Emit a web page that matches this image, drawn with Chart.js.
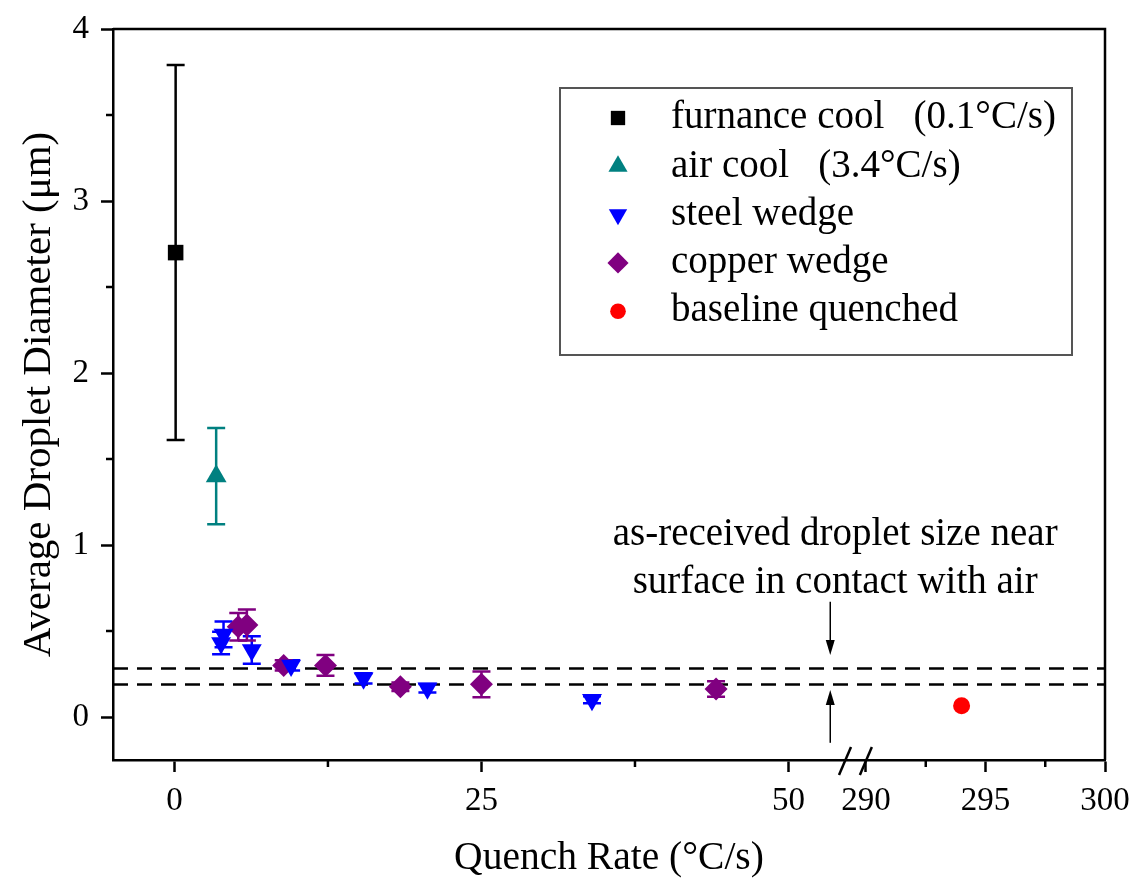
<!DOCTYPE html>
<html>
<head>
<meta charset="utf-8">
<script src="https://cdn.jsdelivr.net/npm/chart.js@4.4.1/dist/chart.umd.min.js"></script>
<style>
  html, body { margin: 0; padding: 0; background: #ffffff; }
  canvas { display: block; }
</style>
</head>
<body>
<canvas id="chart" width="1139" height="884"></canvas>
<script>
// Quench rate (°C/s), average droplet diameter (µm) and error half-width for each series
const furnaceRate = [0.1];
const furnaceDiameter = [2.7];
const furnaceError = [1.09];

const airRate = [3.4];
const airDiameter = [1.40];
const airError = [0.28];

const steelRate = [3.8, 4.0, 6.3, 9.5, 15.4, 20.6, 34.0];
const steelDiameter = [0.43, 0.48, 0.39, 0.30, 0.225, 0.167, 0.10];
const steelError = [0.065, 0.075, 0.08, 0.03, 0.03, 0.025, 0.02];

const copperRate = [5.2, 5.9, 8.9, 12.3, 18.4, 25.0, 44.1];
const copperDiameter = [0.525, 0.535, 0.30, 0.30, 0.176, 0.19, 0.163];
const copperError = [0.08, 0.09, 0.03, 0.06, 0.025, 0.075, 0.045];

const baselineRate = [294.0];
const baselineDiameter = [0.065];

// As-received droplet size band near the surface in contact with air (µm)
const asReceivedBand = [0.19, 0.285];

// Tick positions in °C/s and µm
const xMajorTicks = [0, 25, 50, 290, 295, 300];
const xMinorTicks = [12.5, 37.5, 292.5, 297.5];
const yMajorTicks = [0, 1, 2, 3, 4];
const yMinorTicks = [0.5, 1.5, 2.5, 3.5];

const seriesLabels = [
  'furnance cool   (0.1°C/s)',
  'air cool   (3.4°C/s)',
  'steel wedge',
  'copper wedge',
  'baseline quenched'
];

// Broken rate axis: 0..55 kept as is, 290..300 moved next to it and stretched
const LOW_END = 55;
const HIGH_START = 290;
const HIGH_OFFSET = 56.31;
const HIGH_STRETCH = 1.946;
function toAxis(rate) {
  return rate <= LOW_END ? rate : HIGH_OFFSET + (rate - HIGH_START) * HIGH_STRETCH;
}
function fromAxis(u) {
  return u <= LOW_END ? u : HIGH_START + (u - HIGH_OFFSET) / HIGH_STRETCH;
}

const FONT = "'Liberation Serif', 'Times New Roman', serif";

function points(rates, values) {
  return rates.map((r, i) => ({ x: toAxis(r), y: values[i] }));
}

const series = [
  { rates: furnaceRate, values: furnaceDiameter, errors: furnaceError, color: '#000000', style: 'rect', radius: 11, rotation: 0 },
  { rates: airRate, values: airDiameter, errors: airError, color: '#008080', style: 'triangle', radius: 12, rotation: 0 },
  { rates: steelRate, values: steelDiameter, errors: steelError, color: '#0000ff', style: 'triangle', radius: 11.5, rotation: 180 },
  { rates: copperRate, values: copperDiameter, errors: copperError, color: '#800080', style: 'rectRot', radius: 11.5, rotation: 0 },
  { rates: baselineRate, values: baselineDiameter, errors: null, color: '#ff0000', style: 'circle', radius: 8.5, rotation: 0 }
];

const datasets = series.map((s, i) => ({
  label: seriesLabels[i],
  data: points(s.rates, s.values),
  errors: s.errors,
  pointStyle: s.style,
  pointRotation: s.rotation,
  pointRadius: s.radius,
  pointHoverRadius: s.radius,
  backgroundColor: s.color,
  borderColor: s.color,
  borderWidth: 0,
  showLine: false
}));

// Marker drawing shared by the legend
function drawMarker(ctx, style, rotation, r, x, y, color) {
  ctx.save();
  ctx.fillStyle = color;
  ctx.beginPath();
  if (style === 'rect') {
    const s = r * Math.SQRT1_2;
    ctx.rect(x - s, y - s, 2 * s, 2 * s);
  } else if (style === 'rectRot') {
    ctx.moveTo(x - r, y); ctx.lineTo(x, y - r); ctx.lineTo(x + r, y); ctx.lineTo(x, y + r);
    ctx.closePath();
  } else if (style === 'triangle') {
    let a = rotation * Math.PI / 180;
    ctx.moveTo(x + Math.sin(a) * r, y - Math.cos(a) * r);
    a += 2 * Math.PI / 3;
    ctx.lineTo(x + Math.sin(a) * r, y - Math.cos(a) * r);
    a += 2 * Math.PI / 3;
    ctx.lineTo(x + Math.sin(a) * r, y - Math.cos(a) * r);
    ctx.closePath();
  } else {
    ctx.arc(x, y, r, 0, Math.PI * 2);
  }
  ctx.fill();
  ctx.restore();
}

const errorBars = {
  id: 'errorBars',
  beforeDatasetsDraw(chart) {
    const { ctx } = chart;
    const yScale = chart.scales.y;
    chart.data.datasets.forEach((ds, i) => {
      if (!ds.errors) return;
      const meta = chart.getDatasetMeta(i);
      ctx.save();
      ctx.strokeStyle = ds.borderColor;
      ctx.lineWidth = 2.5;
      meta.data.forEach((pt, j) => {
        const v = ds.data[j].y;
        const e = ds.errors[j];
        const top = yScale.getPixelForValue(v + e);
        const bot = yScale.getPixelForValue(v - e);
        ctx.beginPath();
        ctx.moveTo(pt.x, top); ctx.lineTo(pt.x, bot);
        ctx.moveTo(pt.x - 9, top); ctx.lineTo(pt.x + 9, top);
        ctx.moveTo(pt.x - 9, bot); ctx.lineTo(pt.x + 9, bot);
        ctx.stroke();
      });
      ctx.restore();
    });
  }
};

const bandLines = {
  id: 'bandLines',
  beforeDatasetsDraw(chart) {
    const { ctx, chartArea } = chart;
    const yScale = chart.scales.y;
    ctx.save();
    ctx.strokeStyle = '#000000';
    ctx.lineWidth = 2.5;
    ctx.setLineDash([15, 9]);
    asReceivedBand.forEach(v => {
      const py = Math.round(yScale.getPixelForValue(v)) + 0.5;
      ctx.beginPath();
      ctx.moveTo(chartArea.left, py);
      ctx.lineTo(chartArea.right, py);
      ctx.stroke();
    });
    ctx.restore();
  }
};

function arrow(ctx, x, y0, y1) {
  const dir = y1 > y0 ? 1 : -1;
  const head = 15;
  ctx.beginPath();
  ctx.moveTo(x, y0);
  ctx.lineTo(x, y1 - dir * head);
  ctx.stroke();
  ctx.beginPath();
  ctx.moveTo(x, y1);
  ctx.lineTo(x - 4.5, y1 - dir * head);
  ctx.lineTo(x + 4.5, y1 - dir * head);
  ctx.closePath();
  ctx.fill();
}

const decorations = {
  id: 'decorations',
  afterDatasetsDraw(chart) {
    const { ctx } = chart;
    const xs = chart.scales.x, ys = chart.scales.y;

    // annotation text and arrows pointing at the band
    ctx.save();
    ctx.fillStyle = '#000000';
    ctx.strokeStyle = '#000000';
    ctx.font = '39px ' + FONT;
    ctx.textAlign = 'center';
    ctx.textBaseline = 'middle';
    const tx = xs.getPixelForValue(53.8);
    ctx.fillText('as-received droplet size near', tx, ys.getPixelForValue(1.06));
    ctx.fillText('surface in contact with air', tx, ys.getPixelForValue(0.78));
    ctx.lineWidth = 1.5;
    const ax = xs.getPixelForValue(53.4);
    arrow(ctx, ax, ys.getPixelForValue(0.67), ys.getPixelForValue(0.36));
    arrow(ctx, ax, ys.getPixelForValue(-0.15), ys.getPixelForValue(0.157));
    ctx.restore();
  },
  afterDraw(chart) {
    const { ctx, chartArea } = chart;
    const xs = chart.scales.x, ys = chart.scales.y;
    ctx.save();
    ctx.strokeStyle = '#000000';
    ctx.lineCap = 'butt';

    // frame: top and right edges
    ctx.lineWidth = 2.5;
    ctx.beginPath();
    ctx.moveTo(chartArea.left, chartArea.top);
    ctx.lineTo(chartArea.right, chartArea.top);
    ctx.lineTo(chartArea.right, chartArea.bottom);
    ctx.stroke();

    // minor ticks
    xMinorTicks.forEach(t => {
      const px = xs.getPixelForValue(toAxis(t));
      ctx.beginPath();
      ctx.moveTo(px, chartArea.bottom);
      ctx.lineTo(px, chartArea.bottom + 7);
      ctx.stroke();
    });
    yMinorTicks.forEach(t => {
      const py = ys.getPixelForValue(t);
      ctx.beginPath();
      ctx.moveTo(chartArea.left, py);
      ctx.lineTo(chartArea.left - 7, py);
      ctx.stroke();
    });

    // axis break marks
    [54.6, 56.3].forEach(u => {
      const px = xs.getPixelForValue(u);
      ctx.beginPath();
      ctx.moveTo(px - 6, chartArea.bottom + 15);
      ctx.lineTo(px + 6, chartArea.bottom - 13);
      ctx.stroke();
    });

    // legend
    const box = { x: 560, y: 88, w: 512, h: 267 };
    ctx.fillStyle = '#ffffff';
    ctx.fillRect(box.x, box.y, box.w, box.h);
    ctx.strokeStyle = '#555555';
    ctx.lineWidth = 2;
    ctx.strokeRect(box.x, box.y, box.w, box.h);
    ctx.font = '39px ' + FONT;
    ctx.textAlign = 'left';
    ctx.textBaseline = 'middle';
    chart.data.datasets.forEach((ds, i) => {
      const ry = 118 + i * 48.3;
      drawMarker(ctx, ds.pointStyle, ds.pointRotation, ds.pointRadius * 0.92, 618, ry, ds.backgroundColor);
      ctx.fillStyle = '#000000';
      ctx.fillText(ds.label, 671, ry);
    });
    ctx.restore();
  }
};

function zeroPadding(scale) {
  scale.paddingTop = 0;
  scale.paddingBottom = 0;
  scale.paddingLeft = 0;
  scale.paddingRight = 0;
}

new Chart(document.getElementById('chart'), {
  type: 'scatter',
  data: { datasets },
  options: {
    responsive: false,
    animation: false,
    devicePixelRatio: 1,
    layout: { padding: { top: 29, right: 34, left: 0, bottom: 0 } },
    plugins: {
      legend: { display: false },
      tooltip: { enabled: false }
    },
    scales: {
      x: {
        type: 'linear',
        min: -5,
        max: toAxis(300),
        afterBuildTicks(scale) {
          scale.ticks = xMajorTicks.map(v => ({ value: toAxis(v) }));
        },
        afterFit(scale) {
          scale.height = 124;
          zeroPadding(scale);
        },
        ticks: {
          autoSkip: false,
          maxRotation: 0,
          padding: 10,
          color: '#000000',
          font: { family: FONT, size: 33 },
          callback: value => String(Math.round(fromAxis(value)))
        },
        grid: {
          drawOnChartArea: false,
          drawTicks: true,
          tickLength: 12,
          tickWidth: 2.5,
          tickColor: '#000000'
        },
        border: { display: true, color: '#000000', width: 2.5 },
        title: {
          display: true,
          text: 'Quench Rate (°C/s)',
          color: '#000000',
          font: { family: FONT, size: 39.5 },
          padding: { top: 0, bottom: 2 }
        }
      },
      y: {
        type: 'linear',
        min: -0.25,
        max: 4,
        afterBuildTicks(scale) {
          scale.ticks = yMajorTicks.map(v => ({ value: v }));
        },
        afterFit(scale) {
          scale.width = 113;
          zeroPadding(scale);
        },
        ticks: {
          padding: 12,
          color: '#000000',
          font: { family: FONT, size: 33 },
          callback: value => String(value)
        },
        grid: {
          drawOnChartArea: false,
          drawTicks: true,
          tickLength: 12,
          tickWidth: 2.5,
          tickColor: '#000000'
        },
        border: { display: true, color: '#000000', width: 2.5 },
        title: {
          display: true,
          text: 'Average Droplet Diameter (μm)',
          color: '#000000',
          font: { family: FONT, size: 41 },
          padding: { top: 15, bottom: 0 }
        }
      }
    }
  },
  plugins: [bandLines, errorBars, decorations]
});
</script>
</body>
</html>
